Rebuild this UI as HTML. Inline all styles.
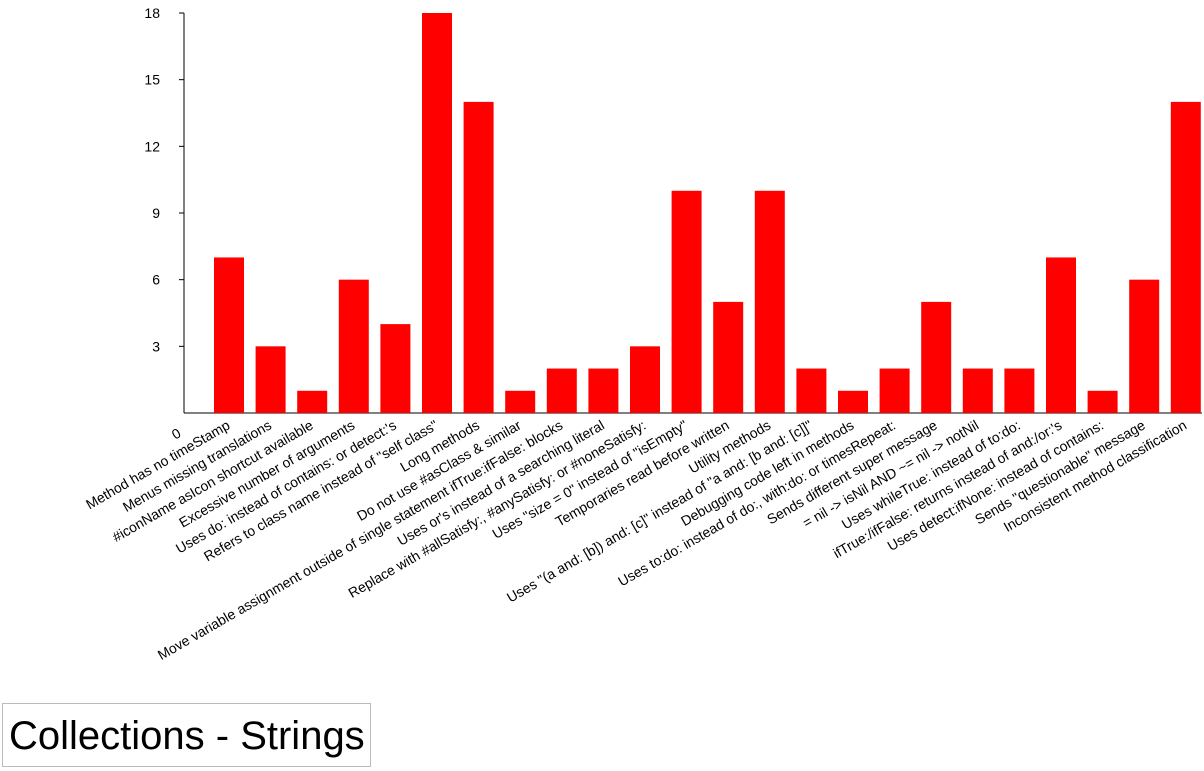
<!DOCTYPE html>
<html><head><meta charset="utf-8"><style>
body{margin:0;background:#fff;width:1204px;height:771px;overflow:hidden;font-family:"Liberation Sans",sans-serif}
#title{position:absolute;left:2px;top:703px;width:369px;height:64px;border:1px solid #bbb;font-size:40px;line-height:64px;padding-left:6px;box-sizing:border-box;color:#000;white-space:nowrap}
</style></head><body>
<svg id="chart" width="1204" height="700" style="position:absolute;left:0;top:0"></svg>
<div id="title">Collections - Strings</div>
<script>
const categories=["Method has no timeStamp","Menus missing translations","#iconName asIcon shortcut available","Excessive number of arguments","Uses do: instead of contains: or detect:'s","Refers to class name instead of \"self class\"","Long methods","Do not use #asClass & similar","Move variable assignment outside of single statement ifTrue:ifFalse: blocks","Uses or's instead of a searching literal","Replace with #allSatisfy:, #anySatisfy: or #noneSatisfy:","Uses \"size = 0\" instead of \"isEmpty\"","Temporaries read before written","Utility methods","Uses \"(a and: [b]) and: [c]\" instead of \"a and: [b and: [c]]\"","Debugging code left in methods","Uses to:do: instead of do:, with:do: or timesRepeat:","Sends different super message","= nil -> isNil AND ~= nil -> notNil","Uses whileTrue: instead of to:do:","ifTrue:/ifFalse: returns instead of and:/or:'s","Uses detect:ifNone: instead of contains:","Sends \"questionable\" message","Inconsistent method classification"];
const values=[7,3,1,6,4,18,14,1,2,2,3,10,5,10,2,1,2,5,2,2,7,1,6,14];
const yTicks=[3,6,9,12,15,18];
const NS="http://www.w3.org/2000/svg";
const svg=document.getElementById('chart');
const y=v=>413-v*(400/18);
const x=i=>229+i*41.6;
function mk(t,a){const e=document.createElementNS(NS,t);for(const k in a)e.setAttribute(k,a[k]);svg.appendChild(e);return e;}
const ax=mk('line',{x1:184,y1:13,x2:184,y2:413,stroke:'#000'});


const bx=mk('line',{x1:184,y1:413,x2:1202,y2:413,stroke:'#000'});


yTicks.forEach(t=>{
 const l=mk('line',{x1:179,x2:184,y1:y(t),y2:y(t),stroke:'#000'});
 
 
 const tx=mk('text',{x:160,y:y(t)+5,'text-anchor':'end','font-size':14});
 tx.textContent=t;
 
 
});
const z=mk('text',{x:182,y:436,'text-anchor':'end','font-size':14,transform:'rotate(-30 182 436)'});
z.textContent='0';


values.forEach((v,i)=>{
 const r=mk('rect',{x:x(i)-15,y:y(v),width:30,height:413-y(v),fill:'#ff0000'});
 
 
 const cx=x(i)+2,cy=428;
 const t=mk('text',{x:cx,y:cy,'text-anchor':'end','font-size':14,transform:`rotate(-30 ${cx} ${cy})`});
 t.textContent=categories[i];
 
 
});
</script>
</body></html>
